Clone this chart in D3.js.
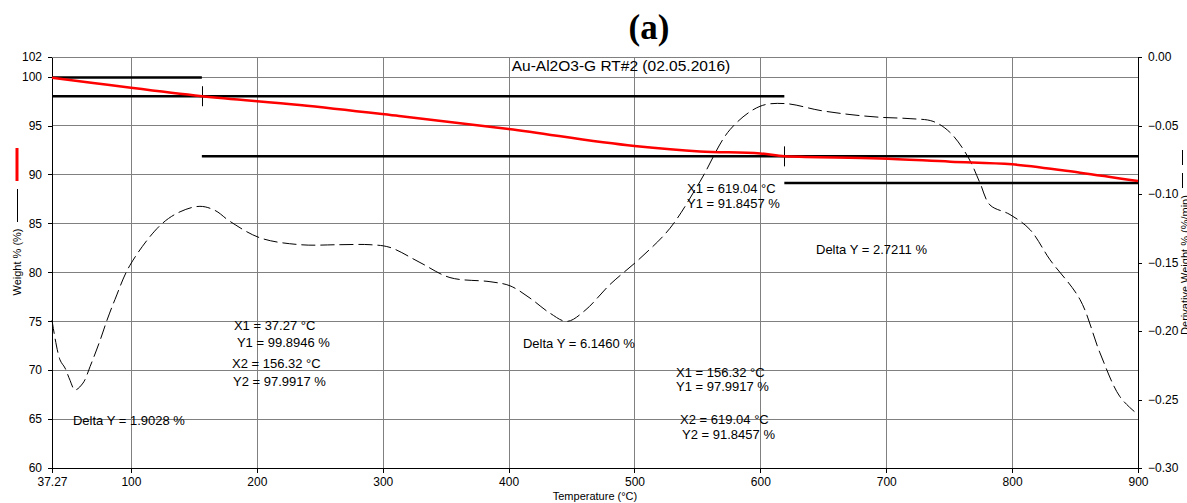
<!DOCTYPE html>
<html>
<head>
<meta charset="utf-8">
<script src="https://cdn.jsdelivr.net/npm/d3@7"></script>
<style>
  body { margin: 0; background: #fff; }
  svg { display: block; font-family: "Liberation Sans", Arial, sans-serif; }
  .grid line { stroke: #808080; stroke-width: 1; shape-rendering: crispEdges; }
  .axis path, .axis line { stroke: #000; shape-rendering: crispEdges; }
  .axis text { font-size: 12px; fill: #000; }
  .note { font-size: 13px; fill: #000; }
</style>
</head>
<body>
<div id="chart"></div>
<script>
// weight curve (left axis, %)
const weightTemp = [37.27, 70, 100, 156.32, 234, 313, 400, 500, 552, 600, 619.04, 695, 751, 800, 854, 900];
const weightPct  = [99.89, 99.35, 98.85, 97.99, 97.1, 95.97, 94.64, 92.9, 92.35, 92.15, 91.85, 91.64, 91.3, 91.03, 90.18, 89.33];

// derivative curve (right axis, %/min)
const derivTemp = [37.27, 43.6, 47.6, 51.6, 55.5, 61.9, 67.5, 75.4, 81.0, 87.3, 99.2, 123.1, 139.0, 154.8, 166.8,
  178.7, 202.5, 234.3, 266.1, 289.9, 305.8, 329.6, 353.4, 385.2, 401.1, 417.0, 432.9, 446.4, 460.7, 480.6,
  504.4, 528.2, 552.0, 575.9, 599.7, 619.6, 647.4, 671.2, 695.0, 718.9, 737.2, 750.6, 765.0, 774.5, 782.4,
  798.3, 814.2, 830.1, 853.9, 869.8, 885.7, 900];
const derivVal = [-0.192, -0.221, -0.227, -0.236, -0.243, -0.238, -0.226, -0.207, -0.192, -0.177, -0.152, -0.123, -0.113, -0.109, -0.112,
  -0.120, -0.132, -0.137, -0.137, -0.137, -0.139, -0.150, -0.161, -0.164, -0.167, -0.176, -0.187, -0.193, -0.185, -0.166,
  -0.147, -0.125, -0.091, -0.053, -0.036, -0.034, -0.039, -0.042, -0.044, -0.045, -0.047, -0.055, -0.073, -0.092, -0.108,
  -0.115, -0.126, -0.148, -0.177, -0.216, -0.248, -0.261];

// step marker lines: [x start, x end, weight]
const stepLines = [[37.27, 156.32, 99.8946], [37.27, 619.04, 97.9917], [156.32, 900, 91.8457], [619.04, 900, 89.1246]];
const stepMarks = [[156.32, 97.9917], [619.04, 91.8457]];

// annotation text, anchored in data units (temperature, weight)
const notes = [
  ["X1 = 37.27 °C", 181.8, 74.6], ["Y1 = 99.8946 %", 184.2, 72.8],
  ["X2 = 156.32 °C", 180.3, 70.7], ["Y2 = 97.9917 %", 181.1, 68.8],
  ["Delta Y = 1.9028 %", 53.9, 64.9],
  ["Delta Y = 6.1460 %", 411.4, 72.7],
  ["X1 = 156.32 °C", 533.0, 69.8], ["Y1 = 97.9917 %", 533.0, 68.3],
  ["X2 = 619.04 °C", 536.2, 65.0], ["Y2 = 91.8457 %", 537.8, 63.4],
  ["X1 = 619.04 °C", 541.7, 88.6], ["Y1 = 91.8457 %", 541.7, 87.0],
  ["Delta Y = 2.7211 %", 644.2, 82.3]
];

const xTicks = [37.27, 100, 200, 300, 400, 500, 600, 700, 800, 900];
const yLeftTicks = [60, 65, 70, 75, 80, 85, 90, 95, 100, 102];
const yRightTicks = [-0.30, -0.25, -0.20, -0.15, -0.10, -0.05, 0.00];

const width = 1187, height = 503;
const margin = { top: 57, right: 49, bottom: 35, left: 52 };

const x = d3.scaleLinear().domain([37.27, 900]).range([margin.left, width - margin.right]);
const yL = d3.scaleLinear().domain([60, 102]).range([height - margin.bottom, margin.top]);
const yR = d3.scaleLinear().domain([-0.30, 0]).range([height - margin.bottom, margin.top]);

const svg = d3.select("#chart").append("svg").attr("width", width).attr("height", height);

// figure label
svg.append("text").attr("x", 649).attr("y", 39).attr("text-anchor", "middle")
  .style("font-family", "'Liberation Serif', 'Times New Roman', serif")
  .style("font-weight", "bold").style("font-size", "35px").text("(a)");

// grid
const grid = svg.append("g").attr("class", "grid");
grid.selectAll(".gx").data(xTicks.slice(1, -1)).enter().append("line")
  .attr("x1", d => Math.round(x(d)) + 0.5).attr("x2", d => Math.round(x(d)) + 0.5)
  .attr("y1", yL(102)).attr("y2", yL(60));
grid.selectAll(".gy").data(yLeftTicks.slice(1)).enter().append("line")
  .attr("x1", x(37.27)).attr("x2", x(900))
  .attr("y1", d => Math.round(yL(d)) + 0.5).attr("y2", d => Math.round(yL(d)) + 0.5);

// axes
svg.append("g").attr("class", "axis").attr("transform", `translate(0,${yL(60)})`)
  .call(d3.axisBottom(x).tickValues(xTicks).tickSize(5).tickSizeOuter(0)
    .tickFormat(d => d === 37.27 ? "37.27" : d))
  .call(g => g.selectAll("text").attr("y", 9));
svg.append("g").attr("class", "axis").attr("transform", `translate(${x(37.27)},0)`)
  .call(d3.axisLeft(yL).tickValues(yLeftTicks).tickSize(4).tickSizeOuter(0))
  .call(g => g.selectAll("text").attr("x", -10));
svg.append("g").attr("class", "axis").attr("transform", `translate(${x(900)},0)`)
  .call(d3.axisRight(yR).tickValues(yRightTicks).tickSize(4).tickSizeOuter(0).tickFormat(d3.format(".2f")))
  .call(g => g.selectAll("text").attr("x", 10));

// axis titles
svg.append("text").attr("x", (x(37.27) + x(900)) / 2).attr("y", 500).attr("text-anchor", "middle")
  .style("font-size", "11px").text("Temperature (°C)");
svg.append("text").attr("transform", "translate(21,262) rotate(-90)").attr("text-anchor", "middle")
  .style("font-size", "11px").text("Weight % (%)");
svg.append("text").attr("transform", "translate(1189,265) rotate(-90)").attr("text-anchor", "middle")
  .style("font-size", "11px").text("Derivative Weight % (%/min)");

// legend swatches beside the axis titles
svg.append("line").attr("x1", 17).attr("x2", 17).attr("y1", 148).attr("y2", 181)
  .attr("stroke", "#ff0000").attr("stroke-width", 3);
svg.append("line").attr("x1", 17.5).attr("x2", 17.5).attr("y1", 189).attr("y2", 222)
  .attr("stroke", "#000").attr("stroke-width", 1);
svg.append("line").attr("x1", 1182.5).attr("x2", 1182.5).attr("y1", 150).attr("y2", 196)
  .attr("stroke", "#000").attr("stroke-width", 1).attr("stroke-dasharray", "15,8");

// title
svg.append("text").attr("x", 621).attr("y", 71).attr("text-anchor", "middle")
  .style("font-size", "15.5px").text("Au-Al2O3-G RT#2 (02.05.2016)");

// derivative curve
const derivData = derivTemp.map((t, i) => [t, derivVal[i]]);
svg.append("path").datum(derivData)
  .attr("fill", "none").attr("stroke", "#000").attr("stroke-width", 1)
  .attr("stroke-dasharray", "14,5")
  .attr("d", d3.line().x(d => x(d[0])).y(d => yR(d[1])).curve(d3.curveCatmullRom));

// step lines
svg.selectAll(".step").data(stepLines).enter().append("line")
  .attr("x1", d => x(d[0])).attr("x2", d => x(d[1]))
  .attr("y1", d => yL(d[2])).attr("y2", d => yL(d[2]))
  .attr("stroke", "#000").attr("stroke-width", 2.5);
svg.selectAll(".mark").data(stepMarks).enter().append("line")
  .attr("x1", d => Math.round(x(d[0])) + 0.5).attr("x2", d => Math.round(x(d[0])) + 0.5)
  .attr("y1", d => yL(d[1]) - 10).attr("y2", d => yL(d[1]) + 10)
  .attr("stroke", "#000").attr("stroke-width", 1);

// weight curve
const weightData = weightTemp.map((t, i) => [t, weightPct[i]]);
svg.append("path").datum(weightData)
  .attr("fill", "none").attr("stroke", "#ff0000").attr("stroke-width", 2.5)
  .attr("d", d3.line().x(d => x(d[0])).y(d => yL(d[1])).curve(d3.curveMonotoneX));

// notes
svg.selectAll(".note").data(notes).enter().append("text").attr("class", "note")
  .attr("x", d => x(d[1])).attr("y", d => yL(d[2])).attr("dy", "0.35em")
  .text(d => d[0]);
</script>
</body>
</html>
